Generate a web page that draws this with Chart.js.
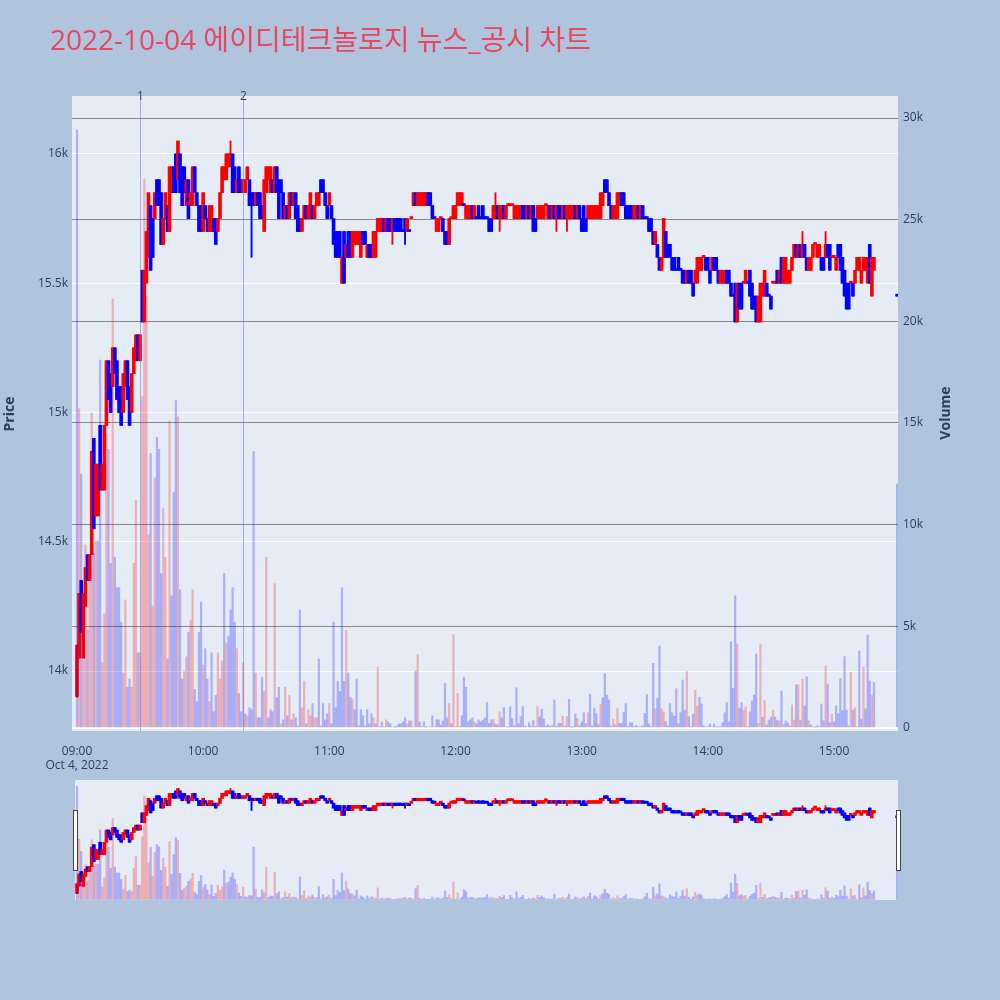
<!DOCTYPE html>
<html><head><meta charset="utf-8">
<script src="https://cdn.jsdelivr.net/npm/chart.js@4.4.1/dist/chart.umd.min.js"></script>
<style>
html,body{margin:0;padding:0;background:#b0c4de;width:1000px;height:1000px;overflow:hidden;}
#main{position:absolute;left:0;top:0;}
#slider{position:absolute;left:60px;top:780px;}
</style></head><body>
<canvas id="main" width="1000" height="775"></canvas>
<canvas id="slider" width="850" height="120"></canvas>
<script>
const chartTitle = '2022-10-04 에이디테크놀로지 뉴스_공시 차트';
const times = [
"09:00","09:01","09:02","09:03","09:04","09:05","09:06","09:07","09:08","09:09","09:10","09:11","09:12","09:13","09:14","09:15","09:16","09:17","09:18","09:19","09:20","09:21","09:22","09:23","09:24","09:25","09:26","09:27","09:28","09:29","09:30","09:31","09:32","09:33","09:34","09:35","09:36","09:37","09:38","09:39","09:40","09:41","09:42","09:43","09:44","09:45","09:46","09:47","09:48","09:49","09:50","09:51","09:52","09:53","09:54","09:55","09:56","09:57","09:58","09:59",
"10:00","10:01","10:02","10:03","10:04","10:05","10:06","10:07","10:08","10:09","10:10","10:11","10:12","10:13","10:14","10:15","10:16","10:17","10:18","10:19","10:20","10:21","10:22","10:23","10:24","10:25","10:26","10:27","10:28","10:29","10:30","10:31","10:32","10:33","10:34","10:35","10:36","10:37","10:38","10:39","10:40","10:41","10:42","10:43","10:44","10:45","10:46","10:47","10:48","10:49","10:50","10:51","10:52","10:53","10:54","10:55","10:56","10:57","10:58","10:59",
"11:00","11:01","11:02","11:03","11:04","11:05","11:06","11:07","11:08","11:09","11:10","11:11","11:12","11:13","11:14","11:15","11:16","11:17","11:18","11:19","11:20","11:21","11:22","11:23","11:24","11:25","11:26","11:27","11:28","11:29","11:30","11:31","11:32","11:33","11:34","11:35","11:36","11:37","11:38","11:39","11:40","11:41","11:42","11:43","11:44","11:45","11:46","11:47","11:48","11:49","11:50","11:51","11:52","11:53","11:54","11:55","11:56","11:57","11:58","11:59",
"12:00","12:01","12:02","12:03","12:04","12:05","12:06","12:07","12:08","12:09","12:10","12:11","12:12","12:13","12:14","12:15","12:16","12:17","12:18","12:19","12:20","12:21","12:22","12:23","12:24","12:25","12:26","12:27","12:28","12:29","12:30","12:31","12:32","12:33","12:34","12:35","12:36","12:37","12:38","12:39","12:40","12:41","12:42","12:43","12:44","12:45","12:46","12:47","12:48","12:49","12:50","12:51","12:52","12:53","12:54","12:55","12:56","12:57","12:58","12:59",
"13:00","13:01","13:02","13:03","13:04","13:05","13:06","13:07","13:08","13:09","13:10","13:11","13:12","13:13","13:14","13:15","13:16","13:17","13:18","13:19","13:20","13:21","13:22","13:23","13:24","13:25","13:26","13:27","13:28","13:29","13:30","13:31","13:32","13:33","13:34","13:35","13:36","13:37","13:38","13:39","13:40","13:41","13:42","13:43","13:44","13:45","13:46","13:47","13:48","13:49","13:50","13:51","13:52","13:53","13:54","13:55","13:56","13:57","13:58","13:59",
"14:00","14:01","14:02","14:03","14:04","14:05","14:06","14:07","14:08","14:09","14:10","14:11","14:12","14:13","14:14","14:15","14:16","14:17","14:18","14:19","14:20","14:21","14:22","14:23","14:24","14:25","14:26","14:27","14:28","14:29","14:30","14:31","14:32","14:33","14:34","14:35","14:36","14:37","14:38","14:39","14:40","14:41","14:42","14:43","14:44","14:45","14:46","14:47","14:48","14:49","14:50","14:51","14:52","14:53","14:54","14:55","14:56","14:57","14:58","14:59",
"15:00","15:01","15:02","15:03","15:04","15:05","15:06","15:07","15:08","15:09","15:10","15:11","15:12","15:13","15:14","15:15","15:16","15:17","15:18","15:19","15:30"];
const open = [
13900,14050,14350,14050,14250,14450,14350,14450,14900,14600,
14600,14950,14700,14700,14950,15200,15150,15100,15250,15200,
15100,15100,15000,15100,15200,15100,15000,15150,15200,15300,
15200,15550,15350,15500,15600,15800,15750,15750,15900,15900,
15850,15650,15750,15800,15700,15850,15950,16000,15900,16000,
15950,15950,15800,15900,15800,15800,15950,15850,15800,15800,
15700,15800,15750,15700,15700,15750,15750,15700,15750,15850,
15900,15900,15950,15950,16000,15950,15850,15950,15900,15850,
15850,15900,15900,15850,15850,15800,15850,15850,15800,15700,
15850,15900,15850,15900,15850,15950,15900,15900,15850,15750,
15800,15750,15850,15800,15850,15800,15750,15700,15750,15800,
15750,15750,15800,15750,15800,15800,15900,15900,15850,15800,
15800,15800,15750,15700,15700,15700,15500,15700,15600,15700,
15700,15600,15650,15650,15650,15600,15700,15700,15600,15650,
15650,15600,15600,15700,15700,15700,15750,15700,15750,15750,
15700,15750,15750,15750,15750,15700,15750,15700,15700,15750,
15800,15850,15800,15800,15800,15800,15800,15850,15850,15800,
15750,15700,15700,15750,15750,15700,15700,15650,15750,15750,
15750,15800,15800,15800,15800,15750,15750,15750,15800,15750,
15750,15800,15750,15800,15750,15750,15750,15750,15750,15750,
15800,15750,15750,15800,15750,15800,15800,15800,15750,15750,
15750,15750,15800,15800,15750,15800,15750,15800,15750,15750,
15750,15750,15750,15800,15750,15800,15750,15800,15750,15800,
15800,15750,15800,15750,15750,15750,15750,15800,15750,15800,
15750,15800,15750,15750,15750,15750,15750,15750,15750,15750,
15800,15900,15900,15850,15800,15750,15750,15750,15800,15850,
15850,15800,15800,15800,15800,15750,15750,15800,15750,15800,
15750,15750,15750,15750,15700,15650,15650,15600,15550,15600,
15700,15650,15650,15600,15600,15550,15600,15550,15550,15550,
15500,15550,15550,15500,15500,15500,15550,15550,15600,15600,
15600,15550,15550,15600,15600,15550,15500,15500,15500,15550,
15550,15500,15450,15500,15350,15500,15500,15500,15500,15500,
15550,15500,15450,15450,15350,15350,15450,15450,15500,15450,
15450,15500,15500,15550,15500,15600,15500,15500,15500,15500,
15550,15600,15650,15600,15650,15600,15650,15600,15550,15550,
15600,15650,15600,15600,15600,15600,15600,15650,15650,15600,
15600,15550,15650,15650,15600,15550,15500,15500,15500,15500,
15500,15550,15550,15500,15550,15550,15500,15650,15450,15550,
15450];
const high = [
14100,14300,14350,14300,14400,14450,14450,14850,14900,14800,
14800,14950,14800,14950,15200,15200,15150,15250,15250,15200,
15100,15100,15150,15200,15200,15100,15150,15250,15300,15300,
15300,15550,15550,15700,15850,15800,15750,15850,15900,15900,
15850,15750,15850,15800,15950,15950,15950,16000,16050,16000,
15950,15950,15900,15900,15850,15950,15950,15850,15800,15800,
15850,15800,15750,15800,15800,15750,15750,15750,15850,15950,
15950,16000,16000,16050,16000,15950,15900,15950,15900,15900,
15900,15950,15900,15850,15850,15850,15850,15850,15800,15900,
15950,15950,15950,15900,15950,15950,15900,15900,15850,15800,
15800,15850,15850,15850,15850,15800,15750,15750,15800,15800,
15800,15850,15800,15800,15850,15850,15900,15900,15850,15800,
15850,15800,15750,15700,15700,15700,15600,15700,15650,15700,
15700,15700,15700,15700,15700,15700,15700,15700,15650,15650,
15650,15700,15700,15750,15750,15750,15750,15750,15750,15750,
15750,15750,15750,15750,15750,15700,15750,15750,15700,15750,
15850,15850,15850,15850,15850,15850,15850,15850,15850,15800,
15750,15750,15750,15750,15750,15700,15700,15750,15750,15800,
15800,15850,15850,15850,15800,15800,15800,15800,15800,15800,
15750,15800,15750,15800,15750,15750,15750,15750,15800,15850,
15800,15800,15800,15800,15800,15800,15800,15800,15800,15800,
15800,15800,15800,15800,15800,15800,15800,15800,15750,15800,
15800,15800,15800,15800,15800,15800,15800,15800,15800,15800,
15800,15800,15800,15800,15800,15800,15800,15800,15800,15800,
15750,15800,15750,15800,15800,15800,15800,15800,15800,15850,
15850,15900,15900,15850,15800,15800,15800,15850,15850,15850,
15850,15800,15800,15800,15800,15800,15800,15800,15800,15800,
15750,15750,15750,15750,15700,15700,15650,15600,15600,15750,
15700,15650,15650,15600,15600,15550,15600,15550,15550,15550,
15550,15550,15550,15500,15550,15600,15600,15600,15600,15600,
15600,15550,15600,15600,15600,15550,15550,15550,15550,15550,
15550,15500,15450,15500,15500,15500,15500,15500,15550,15500,
15550,15500,15450,15450,15450,15500,15500,15550,15500,15450,
15450,15500,15500,15550,15550,15600,15600,15600,15550,15550,
15600,15650,15650,15650,15650,15700,15650,15600,15600,15600,
15650,15650,15650,15650,15600,15600,15700,15650,15650,15600,
15600,15600,15650,15650,15600,15550,15500,15500,15500,15500,
15550,15600,15600,15550,15600,15600,15600,15650,15600,15600,
15450];
const low = [
13900,14050,14150,14050,14250,14350,14350,14450,14550,14600,
14600,14700,14700,14700,14950,15050,15000,15100,15150,15050,
15000,14950,15000,15100,15050,14950,15000,15150,15200,15200,
15200,15350,15350,15500,15600,15550,15600,15750,15800,15800,
15650,15650,15750,15700,15700,15850,15850,15850,15900,15850,
15800,15850,15800,15750,15800,15800,15850,15800,15700,15700,
15700,15750,15700,15700,15700,15700,15650,15700,15750,15850,
15900,15900,15950,15950,15850,15850,15850,15850,15850,15850,
15850,15900,15800,15600,15800,15800,15800,15750,15750,15700,
15850,15900,15850,15850,15850,15850,15750,15850,15750,15750,
15750,15750,15800,15800,15750,15700,15700,15700,15750,15750,
15750,15750,15750,15750,15800,15800,15850,15850,15800,15750,
15800,15750,15650,15600,15600,15600,15500,15500,15600,15600,
15600,15600,15650,15650,15650,15600,15650,15650,15600,15600,
15600,15600,15600,15700,15700,15700,15700,15700,15700,15700,
15650,15700,15700,15700,15700,15700,15650,15700,15700,15750,
15800,15800,15800,15800,15800,15800,15800,15800,15800,15750,
15750,15700,15700,15750,15700,15650,15650,15650,15750,15750,
15750,15800,15800,15800,15800,15750,15750,15750,15750,15750,
15750,15750,15750,15750,15750,15750,15700,15700,15750,15750,
15750,15700,15750,15750,15750,15800,15800,15800,15750,15750,
15750,15750,15750,15750,15750,15750,15750,15700,15700,15750,
15750,15750,15750,15800,15750,15750,15750,15750,15700,15750,
15750,15750,15750,15700,15750,15750,15750,15750,15750,15750,
15700,15700,15700,15750,15750,15750,15750,15750,15750,15750,
15800,15850,15850,15800,15750,15750,15750,15750,15800,15800,
15800,15750,15750,15750,15750,15750,15750,15750,15750,15750,
15750,15750,15700,15700,15650,15650,15600,15550,15550,15600,
15600,15600,15600,15550,15550,15550,15550,15550,15500,15500,
15500,15500,15500,15450,15500,15500,15550,15550,15600,15550,
15550,15500,15550,15550,15550,15500,15500,15500,15500,15500,
15500,15450,15450,15350,15350,15400,15400,15500,15500,15500,
15450,15400,15400,15350,15350,15350,15450,15450,15450,15450,
15400,15500,15500,15500,15500,15500,15500,15500,15500,15500,
15550,15600,15600,15600,15600,15600,15600,15550,15550,15550,
15600,15650,15600,15600,15550,15550,15600,15600,15550,15600,
15600,15550,15600,15550,15500,15450,15400,15400,15500,15450,
15500,15550,15550,15500,15550,15550,15500,15500,15450,15550,
15450];
const close = [
14100,14300,14150,14300,14400,14350,14450,14850,14550,14800,
14800,14700,14800,14950,15200,15050,15000,15250,15150,15050,
15000,14950,15150,15200,15050,14950,15150,15250,15300,15200,
15300,15350,15550,15700,15850,15550,15600,15850,15800,15800,
15650,15750,15850,15700,15950,15950,15850,15850,16050,15850,
15800,15850,15900,15750,15850,15950,15850,15800,15700,15700,
15850,15750,15700,15800,15800,15700,15650,15750,15850,15950,
15950,16000,16000,16000,15850,15850,15900,15850,15850,15900,
15900,15950,15800,15800,15800,15850,15800,15750,15750,15900,
15950,15950,15950,15850,15950,15850,15750,15850,15750,15800,
15750,15850,15800,15850,15750,15700,15700,15750,15800,15750,
15800,15850,15750,15800,15850,15850,15850,15850,15800,15750,
15850,15750,15650,15600,15600,15600,15600,15500,15650,15600,
15600,15700,15700,15700,15700,15700,15650,15650,15650,15600,
15600,15700,15700,15750,15750,15750,15700,15750,15700,15700,
15750,15700,15700,15700,15700,15700,15700,15750,15700,15750,
15850,15800,15850,15850,15850,15850,15850,15800,15800,15750,
15750,15750,15750,15750,15700,15650,15650,15750,15750,15800,
15800,15850,15850,15850,15800,15800,15800,15800,15750,15800,
15750,15750,15750,15750,15750,15750,15700,15700,15800,15800,
15750,15800,15800,15750,15800,15800,15800,15800,15800,15800,
15800,15800,15750,15750,15800,15750,15800,15700,15700,15800,
15800,15800,15800,15800,15800,15750,15800,15750,15800,15750,
15750,15800,15750,15800,15800,15800,15800,15750,15800,15750,
15700,15700,15700,15800,15800,15800,15800,15800,15800,15850,
15850,15850,15850,15800,15750,15800,15800,15850,15850,15800,
15800,15750,15750,15750,15750,15800,15800,15750,15800,15750,
15750,15750,15700,15700,15650,15700,15600,15550,15600,15750,
15600,15600,15600,15550,15550,15550,15550,15550,15500,15500,
15550,15500,15500,15450,15550,15600,15600,15600,15600,15550,
15550,15500,15600,15550,15550,15500,15550,15550,15550,15500,
15500,15450,15450,15350,15500,15400,15400,15500,15550,15500,
15450,15400,15400,15350,15450,15500,15500,15550,15450,15450,
15400,15500,15500,15500,15550,15500,15600,15600,15550,15550,
15600,15650,15600,15650,15600,15650,15600,15550,15600,15600,
15650,15650,15650,15650,15550,15550,15650,15600,15550,15600,
15600,15600,15600,15550,15500,15450,15400,15400,15500,15450,
15550,15600,15600,15550,15600,15600,15600,15500,15600,15600,
15450];
const volume = [
29400,15700,12500,6000,9000,4800,8000,15500,8600,9200,
9200,18100,3200,5600,14500,13700,8100,21100,8400,6900,
6900,5200,2700,6300,2000,2400,2000,8100,11200,3700,
3700,16300,27000,21200,9500,13500,6000,12300,14300,13700,
7600,10800,8400,3400,15100,6500,11600,16100,15300,6800,
2400,2800,3500,4700,5300,6800,1900,1300,4700,6200,
3100,3900,2400,1300,3700,800,1600,3700,2400,3300,
7600,4200,4500,5800,6900,5200,3900,1700,800,3200,
700,600,1000,900,13600,2700,500,500,2500,1800,
8400,500,900,800,7100,1500,2000,200,400,2000,
600,1600,400,700,500,100,5800,1000,2300,200,
900,600,1200,500,500,3400,100,1200,400,700,
1200,200,5200,1000,2300,1800,6900,2300,4800,2700,
1500,1400,900,2400,100,900,600,100,900,200,
700,500,200,3000,50,300,50,400,300,200,
50,20,100,200,200,300,500,200,350,350,
50,2800,3600,300,50,300,30,50,50,600,
50,400,400,150,350,2200,500,1200,200,4600,
50,1700,50,600,2500,2000,300,400,500,300,
200,400,300,390,500,1240,230,400,420,200,
160,800,500,1000,60,30,1040,460,100,1980,
200,560,1050,100,60,260,100,360,80,1050,
550,920,440,100,150,80,150,1380,80,230,
230,590,100,560,1410,30,80,700,460,100,
300,750,200,750,1670,100,980,700,160,1160,
1490,2680,1620,1380,100,420,150,960,230,230,
770,1200,80,260,260,80,130,60,80,110,
720,1650,200,60,3180,940,1460,4030,950,790,
310,110,1200,750,590,1930,200,750,2360,880,
2800,560,60,680,1870,1080,1510,1180,110,50,
60,200,50,200,60,30,100,260,750,1240,
300,4240,1950,6500,4130,980,1240,880,1050,60,
790,1330,1620,3640,230,4130,530,1350,150,390,
530,880,530,360,360,1820,180,340,260,100,
1130,390,2130,2130,390,2400,1080,2520,360,150,
60,30,110,60,1180,360,3050,2160,260,680,
310,1100,700,2420,850,3510,880,100,2740,880,
1000,60,3790,420,2990,950,4570,2310,1600,2240,
12000];
const newsTimes = ['09:30', '10:19'];
const newsLabels = ['1', '2'];
const timeTicks = ['09:00', '10:00', '11:00', '12:00', '13:00', '14:00', '15:00'];
const timeTickLabels = [['09:00', 'Oct 4, 2022'], '10:00', '11:00', '12:00', '13:00', '14:00', '15:00'];
const priceTicks = [14000, 14500, 15000, 15500, 16000];
const priceTickLabels = ['14k', '14.5k', '15k', '15.5k', '16k'];
const volTicks = [0, 5000, 10000, 15000, 20000, 25000, 30000];
const volTickLabels = ['0', '5k', '10k', '15k', '20k', '25k', '30k'];

const toMin = t => { const p = t.split(':').map(Number); return (p[0] - 9) * 60 + p[1]; };
const xs = times.map(toMin);
const X_MIN = -2.38, X_MAX = 390.43;
const P_MIN = 13768, P_MAX = 16224;
const V_MIN = -148, V_MAX = 31082;

const UP = '#ff0000', DOWN = '#0000ff';
const dirs = [];
for (let i = 0; i < close.length; i++) {
  let d;
  if (close[i] > open[i]) d = 1;
  else if (close[i] < open[i]) d = -1;
  else if (i > 0 && close[i] > close[i - 1]) d = 1;
  else if (i > 0 && close[i] < close[i - 1]) d = -1;
  else d = i > 0 ? dirs[i - 1] : 1;
  dirs.push(d);
}
const candleColors = dirs.map(d => d > 0 ? UP : DOWN);
const volColors = close.map((c, i) => (i > 0 && c > close[i - 1]) ? 'rgba(255,0,0,0.25)' : 'rgba(0,0,255,0.25)');

function makeDatasets() {
  return [
    { label: 'Volume', yAxisID: 'y2', data: xs.map((x, i) => ({ x: x, y: volume[i] })),
      backgroundColor: volColors, barThickness: 1.6, grouped: false, order: 0 },
    { label: 'Body', yAxisID: 'y', data: xs.map((x, i) => ({ x: x, y: [Math.min(open[i], close[i]), Math.max(open[i], close[i])] })),
      backgroundColor: candleColors, barThickness: 3, minBarLength: 2, grouped: false, order: 1 },
    { label: 'Wick', yAxisID: 'y', data: xs.map((x, i) => ({ x: x, y: [low[i], high[i]] })),
      backgroundColor: candleColors, barThickness: 1.2, grouped: false, order: 2 }
  ];
}

Chart.defaults.font.family = "'Open Sans', 'Noto Sans', sans-serif";
Chart.defaults.font.size = 12;
Chart.defaults.color = '#2a3f5f';

const plotBg = {
  id: 'plotBg',
  beforeDraw(chart, args, opts) {
    const { ctx, chartArea: a } = chart;
    ctx.save();
    ctx.fillStyle = '#e5ecf6';
    const l = opts.left != null ? opts.left : a.left;
    ctx.fillRect(l, a.top, a.right - l, a.bottom - a.top);
    ctx.restore();
  }
};

const mainDecor = {
  id: 'mainDecor',
  afterDatasetsDraw(chart) {
    const { ctx, chartArea: a, scales } = chart;
    ctx.save();
    newsTimes.forEach((t, i) => {
      const x = Math.round(scales.x.getPixelForValue(toMin(t))) + 0.5;
      ctx.strokeStyle = 'rgba(100,120,225,0.55)';
      ctx.lineWidth = 1;
      ctx.beginPath(); ctx.moveTo(x, a.top); ctx.lineTo(x, a.bottom); ctx.stroke();
      ctx.fillStyle = '#444';
      ctx.font = "12px 'Open Sans', sans-serif";
      ctx.textAlign = 'center'; ctx.textBaseline = 'middle';
      ctx.fillText(newsLabels[i], x, a.top + 1);
    });
    ctx.restore();
  },
  afterDraw(chart) {
    const { ctx } = chart;
    ctx.save();
    ctx.fillStyle = '#e8475f';
    ctx.font = "28px 'Open Sans', 'Noto Sans CJK KR', sans-serif";
    ctx.textAlign = 'left'; ctx.textBaseline = 'alphabetic';
    ctx.fillText(chartTitle, 50, 50);
    ctx.fillStyle = '#2a3f5f';
    ctx.font = "bold 14px 'Open Sans', sans-serif";
    ctx.textAlign = 'center'; ctx.textBaseline = 'middle';
    ctx.translate(10, 414); ctx.rotate(-Math.PI / 2); ctx.fillText('Price', 0, 0);
    ctx.restore();
    ctx.save();
    ctx.fillStyle = '#2a3f5f';
    ctx.font = "bold 14px 'Open Sans', sans-serif";
    ctx.textAlign = 'center'; ctx.textBaseline = 'middle';
    ctx.translate(946, 413); ctx.rotate(-Math.PI / 2); ctx.fillText('Volume', 0, 0);
    ctx.restore();
  }
};

new Chart(document.getElementById('main'), {
  type: 'bar',
  data: { datasets: makeDatasets() },
  plugins: [plotBg, mainDecor],
  options: {
    responsive: false, animation: false, events: [],
    layout: { padding: { top: 96, left: 0, right: 0, bottom: 0 } },
    plugins: { legend: { display: false }, tooltip: { enabled: false }, plotBg: {} },
    scales: {
      x: {
        type: 'linear', min: X_MIN, max: X_MAX, offset: false,
        grid: { display: false }, border: { display: false },
        afterBuildTicks: s => { s.ticks = timeTicks.map(t => ({ value: toMin(t) })); },
        afterFit: s => { s.height = 775 - 731; },
        ticks: { autoSkip: false, maxRotation: 0, padding: 5, color: '#2a3f5f',
          callback: (v, i) => timeTickLabels[i] }
      },
      y: {
        type: 'linear', position: 'left', min: P_MIN, max: P_MAX,
        grid: { color: '#ffffff', lineWidth: 1, drawTicks: false }, border: { display: false },
        afterBuildTicks: s => { s.ticks = priceTicks.map(v => ({ value: v })); },
        afterFit: s => { s.width = 72; },
        ticks: { padding: 4, color: '#2a3f5f', callback: (v, i) => priceTickLabels[i] }
      },
      y2: {
        type: 'linear', position: 'right', min: V_MIN, max: V_MAX,
        grid: { color: c => c.tick && c.tick.value === 0 ? '#ffffff' : 'rgba(120,120,120,0.85)',
                lineWidth: c => c.tick && c.tick.value === 0 ? 2 : 1, drawTicks: false },
        border: { display: false },
        afterBuildTicks: s => { s.ticks = volTicks.map(v => ({ value: v })); },
        afterFit: s => { s.width = 102; },
        ticks: { padding: 5, color: '#2a3f5f', callback: (v, i) => volTickLabels[i] }
      }
    }
  }
});

const sliderDecor = {
  id: 'sliderDecor',
  afterDraw(chart) {
    const { ctx } = chart;
    ctx.save();
    ctx.fillStyle = '#ffffff'; ctx.strokeStyle = '#444'; ctx.lineWidth = 1;
    [[13.5, 30.5], [836.5, 30.5]].forEach(p => {
      ctx.fillRect(p[0], p[1], 4, 60);
      ctx.strokeRect(p[0], p[1], 4, 60);
    });
    ctx.restore();
  }
};

new Chart(document.getElementById('slider'), {
  type: 'bar',
  data: { datasets: makeDatasets() },
  plugins: [plotBg, sliderDecor],
  options: {
    responsive: false, animation: false, events: [],
    layout: { padding: { top: 0, left: 12, right: 12, bottom: 0 } },
    plugins: { legend: { display: false }, tooltip: { enabled: false }, plotBg: { left: 15 } },
    scales: {
      x: { type: 'linear', display: false, min: X_MIN, max: X_MAX, offset: false },
      y: { type: 'linear', display: false, min: P_MIN, max: P_MAX },
      y2: { type: 'linear', display: false, min: V_MIN, max: V_MAX }
    }
  }
});
</script>
</body></html>
